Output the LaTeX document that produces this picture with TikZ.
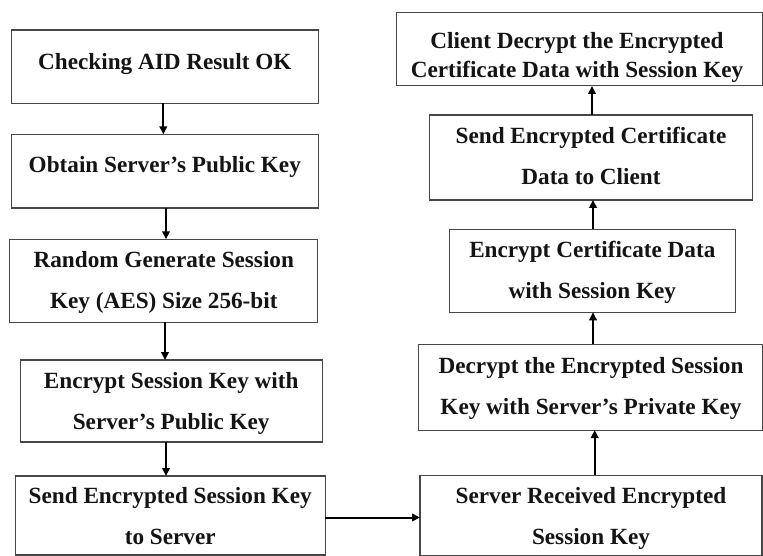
\documentclass[tikz,border=0pt]{standalone}
\usepackage{fontspec}
\setmainfont{Liberation Serif}
\usetikzlibrary{arrows.meta,calc}
\tikzset{
  box/.style={draw=black!72, line width=1.1pt, inner sep=0pt, outer sep=0pt, rectangle},
  txt/.style={inner sep=0pt, outer sep=0pt, text=black!92, anchor=base},
  arr/.style={draw=black, line width=2pt, -{Triangle[length=8pt,width=7.5pt]}},
}
\newcommand{\wide}[1]{\fontsize{23.2}{41}\selectfont\bfseries\begin{tabular}[t]{@{}c@{}}#1\end{tabular}}
\newcommand{\tight}[1]{\fontsize{23.2}{29}\selectfont\bfseries\begin{tabular}[t]{@{}c@{}}#1\end{tabular}}
\begin{document}
\begin{tikzpicture}[x=1pt,y=-1pt]
\useasboundingbox (0,0) rectangle (763,556);
% left column
\node[box, minimum width=307pt, minimum height=73.3pt] (b1) at (164.8,66.7) {};
\node[box, minimum width=307pt, minimum height=73.7pt] (b2) at (164.8,171.2) {};
\node[box, minimum width=308.2pt, minimum height=83pt] (b3) at (163.4,280.8) {};
\node[box, minimum width=302pt, minimum height=82pt] (b4) at (171.7,401) {};
\node[box, minimum width=309.7pt, minimum height=79pt] (b5) at (170.2,515.5) {};
% right column
\node[box, minimum width=342pt, minimum height=79.7pt] (b6) at (591,515.2) {};
\node[box, minimum width=343.3pt, minimum height=85.7pt] (b7) at (590.4,387.2) {};
\node[box, minimum width=286.5pt, minimum height=83pt] (b8) at (592.3,270.8) {};
\node[box, minimum width=322.6pt, minimum height=85pt] (b9) at (591,157.5) {};
\node[box, minimum width=365.5pt, minimum height=73.3pt] (b10) at (579.3,49.3) {};
% texts
\node[txt] (t1) at (164.8,70) {\wide{Checking AID Result OK}};
\node[txt] (t2) at (164.8,173) {\wide{Obtain Server’s Public Key}};
\node[txt] (t3) at (163.8,267) {\wide{Random Generate Session\\Key (AES) Size 256-bit}};
\node[txt] (t4) at (171.2,388) {\wide{Encrypt Session Key with\\Server’s Public Key}};
\node[txt] (t5) at (170.2,503) {\wide{Send Encrypted Session Key\\to Server}};
\node[txt] (t6) at (591,503) {\wide{Server Received Encrypted\\Session Key}};
\node[txt] (t7) at (591,373) {\wide{Decrypt the Encrypted Session\\Key with Server’s Private Key}};
\node[txt] (t8) at (592.3,258) {\wide{Encrypt Certificate Data\\with Session Key}};
\node[txt] (t9) at (591,144) {\wide{Send Encrypted Certificate\\Data to Client}};
\node[txt] (t10) at (577,48.5) {\tight{Client Decrypt the Encrypted\\Certificate Data with Session Key}};
% arrows
\draw[arr] ([xshift=-1.5pt]b1.south) -- ([xshift=-1.5pt]b1.south |- b2.north);
\draw[arr] ([xshift=1.2pt]b2.south) -- ([xshift=1.2pt]b2.south |- b3.north);
\draw[arr] ([xshift=1.6pt]b3.south) -- ([xshift=1.6pt]b3.south |- b4.north);
\draw[arr] ([xshift=-5.7pt]b4.south) -- ([xshift=-5.7pt]b4.south |- b5.north);
\draw[arr] ([yshift=-2pt]b5.east) -- ([yshift=-2pt]b5.east -| b6.west);
\draw[arr] ([xshift=3.7pt]b6.north) -- ([xshift=3.7pt]b6.north |- b7.south);
\draw[arr] ([xshift=2.6pt]b7.north) -- ([xshift=2.6pt]b7.north |- b8.south);
\draw[arr] ([xshift=0.7pt]b8.north) -- ([xshift=0.7pt]b8.north |- b9.south);
\draw[arr] ([xshift=1pt]b9.north) -- ([xshift=1pt]b9.north |- b10.south);
\end{tikzpicture}
\end{document}
